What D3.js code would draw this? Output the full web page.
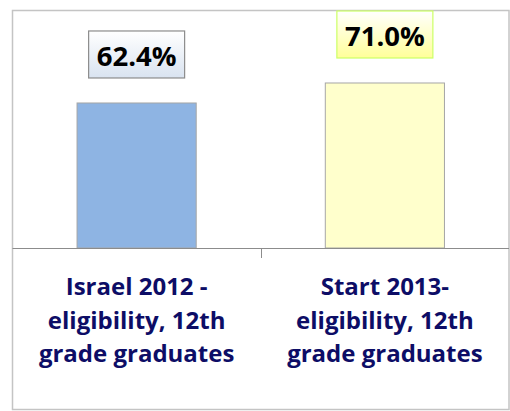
<!DOCTYPE html>
<html>
<head>
<meta charset="utf-8">
<script src="https://cdn.jsdelivr.net/npm/d3@7"></script>
<style>
  html, body { margin: 0; padding: 0; background: #fff; }
  svg { display: block; }
</style>
</head>
<body>
<div id="chart"></div>
<script>
// datos
const categories = ["israel", "start"];
const categoryLines = [
  ["Israel 2012 -", "eligibility, 12th", "grade graduates"],
  ["Start 2013-", "eligibility, 12th", "grade graduates"]
];
const values = [62.4, 71.0];
const valueLabels = ["62.4%", "71.0%"];

const width = 510, height = 411;
const frame = { left: 12.5, top: 10.5, right: 509, bottom: 409.5 };
const axisY = 248;

const barFill = ["#8eb4e3", "#ffffcc"];
const boxStroke = ["#8c8c8c", "#ccff66"];

const svg = d3.select("#chart").append("svg")
  .attr("width", width)
  .attr("height", height);

// gradientes de las etiquetas
const defs = svg.append("defs");
const gradStops = [["#ffffff", "#d9e3f0"], ["#ffffff", "#ffff99"]];
gradStops.forEach((s, i) => {
  const g = defs.append("linearGradient")
    .attr("id", "grad" + i)
    .attr("x1", 0).attr("y1", 0).attr("x2", 0).attr("y2", 1);
  g.append("stop").attr("offset", "0%").attr("stop-color", s[0]);
  g.append("stop").attr("offset", "100%").attr("stop-color", s[1]);
});

// marco
svg.append("rect")
  .attr("x", frame.left).attr("y", frame.top)
  .attr("width", frame.right - frame.left)
  .attr("height", frame.bottom - frame.top)
  .attr("fill", "#fff")
  .attr("stroke", "#c4c4c4")
  .attr("stroke-width", 1.5);

const x = d3.scaleBand()
  .domain(categories)
  .range([frame.left, frame.right])
  .paddingInner(0.52)
  .paddingOuter(0.26);

const y = d3.scaleLinear().domain([0, 100]).range([axisY, 15.6]);

// barras
svg.append("g")
  .selectAll("rect")
  .data(values)
  .join("rect")
  .attr("x", (d, i) => x(categories[i]))
  .attr("y", d => y(d))
  .attr("width", x.bandwidth())
  .attr("height", d => y(0) - y(d))
  .attr("fill", (d, i) => barFill[i])
  .attr("stroke", "#a6a6a6")
  .attr("stroke-width", 1);

// eje
svg.append("line")
  .attr("x1", frame.left).attr("x2", frame.right)
  .attr("y1", axisY + 0.5).attr("y2", axisY + 0.5)
  .attr("stroke", "#8c8c8c")
  .attr("stroke-width", 1.2);

const midTick = x(categories[1]) - x.step() * x.paddingInner() / 2;
svg.append("line")
  .attr("x1", Math.round(midTick) + 0.5).attr("x2", Math.round(midTick) + 0.5)
  .attr("y1", axisY).attr("y2", axisY + 10)
  .attr("stroke", "#8c8c8c")
  .attr("stroke-width", 1);

// etiquetas de valor
const boxW = 96, boxH = 47, gap = 25;
const lab = svg.append("g")
  .selectAll("g")
  .data(values)
  .join("g")
  .attr("transform", (d, i) =>
    `translate(${x(categories[i]) + x.bandwidth() / 2},${y(d) - gap - boxH})`);

lab.append("rect")
  .attr("x", -boxW / 2).attr("y", 0)
  .attr("width", boxW).attr("height", boxH)
  .attr("fill", (d, i) => `url(#grad${i})`)
  .attr("stroke", (d, i) => boxStroke[i])
  .attr("stroke-width", 1.2);

lab.append("text")
  .attr("text-anchor", "middle")
  .attr("y", boxH - 12)
  .attr("font-family", "'Open Sans', sans-serif")
  .attr("font-weight", "bold")
  .attr("font-size", 27.5)
  .attr("fill", "#000")
  .text((d, i) => valueLabels[i]);

// etiquetas de categoría
const cat = svg.append("g")
  .attr("font-family", "'Open Sans', sans-serif")
  .attr("font-weight", "bold")
  .attr("font-size", 24)
  .attr("fill", "#0d0d66")
  .attr("text-anchor", "middle");

categories.forEach((c, i) => {
  const t = cat.append("text")
    .attr("x", x(c) + x.bandwidth() / 2)
    .attr("y", 295);
  categoryLines[i].forEach((line, j) => {
    t.append("tspan")
      .attr("x", x(c) + x.bandwidth() / 2)
      .attr("dy", j === 0 ? 0 : 33.5)
      .text(line);
  });
});
</script>
</body>
</html>
